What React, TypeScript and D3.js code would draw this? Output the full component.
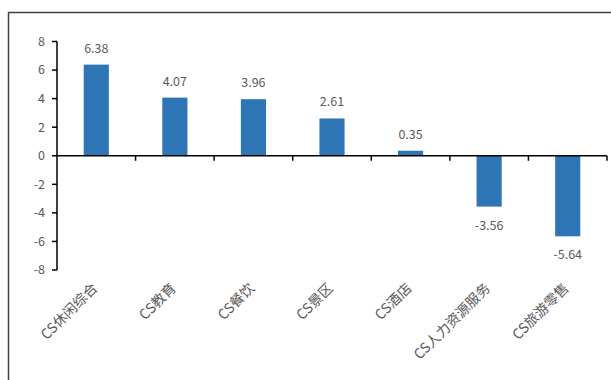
import React from "react";
import * as d3 from "d3";

const categories = ["CS休闲综合", "CS教育", "CS餐饮", "CS景区", "CS酒店", "CS人力资源服务", "CS旅游零售"];
const values = [6.38, 4.07, 3.96, 2.61, 0.35, -3.56, -5.64];
const yTicks = [8, 6, 4, 2, 0, -2, -4, -6, -8];

const W = 611;
const H = 380;
const FONT = "'Noto Sans CJK SC', 'Noto Sans', sans-serif";
const TEXT = "#595959";
const BAR = "#2E75B6";

export default function App() {
  const x = d3.scaleBand<string>().domain(categories).range([57, 607]).paddingInner(0).paddingOuter(0);
  const y = d3.scaleLinear().domain([-8, 8]).range([270, 41.5]);
  const bw = x.bandwidth() * 0.32;
  const y0 = y(0);
  const bounds = d3.range(categories.length + 1).map((i) => 57 + i * x.step());

  return (
    <svg width={W} height={H} style={{ position: "absolute", left: 0, top: 0, background: "#fff" }}>
      {/* outer frame edges */}
      <line x1={8.5} x2={8.5} y1={12.5} y2={H} stroke="#404040" strokeWidth={1.5} />
      <line x1={8} x2={W} y1={12.5} y2={12.5} stroke="#404040" strokeWidth={1.5} />

      {/* bars */}
      {categories.map((c, i) => {
        const v = values[i];
        const cx = (x(c) as number) + x.bandwidth() / 2;
        const top = Math.min(y(v), y0);
        const h = Math.abs(y(v) - y0);
        return (
          <g key={c}>
            <rect x={cx - bw / 2} y={top} width={bw} height={h} fill={BAR} />
            <text
              x={cx}
              y={v >= 0 ? y(v) - 12 : y(v) + 23}
              textAnchor="middle"
              fontFamily={FONT}
              fontSize={12.5}
              fill={TEXT}
            >
              {v.toFixed(2)}
            </text>
          </g>
        );
      })}

      {/* y axis */}
      <line x1={57} x2={57} y1={y(8)} y2={y(-8)} stroke="#000" strokeWidth={1.5} />
      {yTicks.map((t) => (
        <g key={t}>
          <line x1={52} x2={57} y1={y(t)} y2={y(t)} stroke="#000" strokeWidth={1.5} />
          <text
            x={45}
            y={y(t)}
            dy="0.35em"
            textAnchor="end"
            fontFamily={FONT}
            fontSize={12.5}
            fill={TEXT}
          >
            {t}
          </text>
        </g>
      ))}

      {/* x axis at zero */}
      <line x1={57} x2={607} y1={y0} y2={y0} stroke="#000" strokeWidth={1.5} />
      {bounds.slice(1).map((bx, i) => (
        <line key={i} x1={bx} x2={bx} y1={y0} y2={y0 + 5} stroke="#000" strokeWidth={1.5} />
      ))}

      {/* category labels */}
      {categories.map((c) => {
        const cx = (x(c) as number) + x.bandwidth() / 2 + 2;
        const ty = 289;
        return (
          <text
            key={c}
            transform={`translate(${cx},${ty}) rotate(-45)`}
            textAnchor="end"
            fontFamily={FONT}
            fontSize={14}
            fill={TEXT}
          >
            {c}
          </text>
        );
      })}
    </svg>
  );
}
